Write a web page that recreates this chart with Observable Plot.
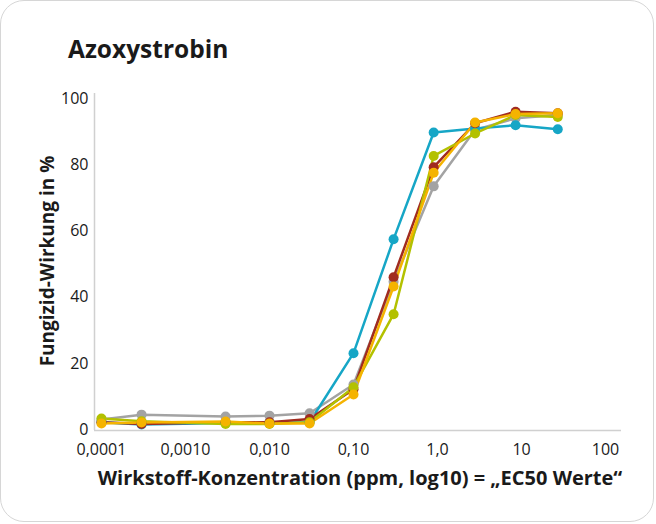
<!DOCTYPE html>
<html><head><meta charset="utf-8">
<script src="https://cdn.jsdelivr.net/npm/d3@7"></script>
<script src="https://cdn.jsdelivr.net/npm/@observablehq/plot@0.6"></script>
<style>
body{margin:0;background:#fff;font-family:"Open Sans",sans-serif;}
#card{position:absolute;left:0;top:0;width:652px;height:520px;border:1.5px solid #d6d6d6;border-radius:24px;}
#chart{position:absolute;left:0;top:0;}
.lab{position:absolute;font-weight:700;color:#1a1a1a;white-space:nowrap;line-height:1;}
#title{left:68px;top:37px;font-size:24.5px;}
#ylab{left:47px;top:261px;font-size:19px;transform:translate(-50%,-50%) rotate(-90deg);}
#xlab{left:360px;top:478px;font-size:20px;transform:translate(-50%,-50%);}
</style></head>
<body>
<div id="card"></div>
<div id="chart"></div>
<div class="lab" id="title">Azoxystrobin</div>
<div class="lab" id="ylab">Fungizid-Wirkung in %</div>
<div class="lab" id="xlab">Wirkstoff-Konzentration (ppm, log10) = „EC50 Werte“</div>
<script>
const conc = [0.0001, 0.0003, 0.003, 0.01, 0.03, 0.1, 0.3, 0.9, 2.8, 8.5, 27];
const seriesNames = ["grau", "cyan", "dunkelrot", "gruen", "gelb"];
const grau      = [3.3, 4.8, 4.2, 4.5, 5.2, 13.9, 45.0, 73.9, 91.0, 94.5, 95.5];
const cyan      = [2.5, 1.8, 2.3, 2.3, 2.5, 23.4, 57.9, 90.2, 91.4, 92.4, 91.2];
const dunkelrot = [2.5, 2.0, 2.5, 2.5, 3.5, 12.5, 46.4, 79.7, 93.0, 96.5, 96.0];
const gruen     = [3.6, 2.8, 2.0, 2.0, 2.5, 13.1, 35.2, 83.1, 89.9, 95.5, 94.9];
const gelb      = [2.1, 2.4, 2.7, 2.1, 2.1, 10.9, 43.6, 78.0, 93.2, 95.8, 96.0];
const colors = ["#a3a3a3", "#16a6c6", "#a12b1f", "#b3c100", "#f5b300"];
const xTicks = [0.0001, 0.001, 0.01, 0.1, 1, 10, 100];
const xTickLabels = ["0,0001", "0,0010", "0,010", "0,10", "1,0", "10", "100"];
const yTicks = [0, 20, 40, 60, 80, 100];

const allSeries = [grau, cyan, dunkelrot, gruen, gelb];
const data = [];
allSeries.forEach((vals, s) => vals.forEach((v, i) => data.push({series: seriesNames[s], x: conc[i], y: v})));

const xDomain = [Math.pow(10, -4.083), Math.pow(10, 2.19)];
const chart = Plot.plot({
  width: 656, height: 524,
  marginLeft: 94, marginRight: 35, marginTop: 93, marginBottom: 94,
  style: {fontFamily: "Open Sans", fontSize: "16px", color: "#1a1a1a", background: "transparent"},
  x: {type: "log", domain: xDomain},
  y: {domain: [0, 102]},
  color: {domain: seriesNames, range: colors},
  marks: [
    Plot.ruleY([0], {stroke: "#d0d0d0", strokeWidth: 1.5}),
    Plot.ruleX([xDomain[0]], {stroke: "#d0d0d0", strokeWidth: 1.5}),
    Plot.axisX({ticks: xTicks, tickSize: 0, tickPadding: 13, label: null,
      tickFormat: d => xTickLabels[xTicks.indexOf(d)]}),
    Plot.axisY({ticks: yTicks, tickSize: 0, tickPadding: 6, label: null, dy: -1}),
    Plot.line(data, {x: "x", y: "y", z: "series", stroke: "series", strokeWidth: 2.5}),
    Plot.dot(data, {x: "x", y: "y", fill: "series", r: 5})
  ]
});
document.getElementById("chart").appendChild(chart);
</script>
</body></html>
